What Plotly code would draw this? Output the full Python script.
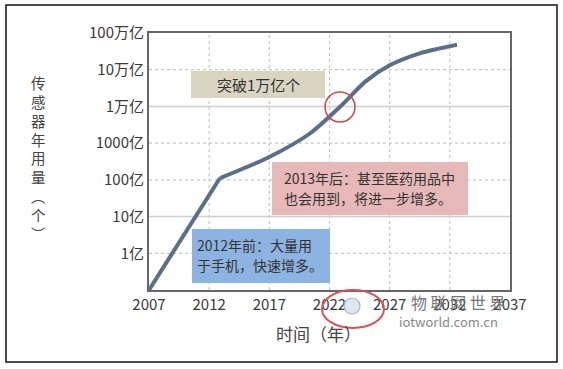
import plotly.graph_objects as go

# ---- data ----
years = [2007, 2012.9, 2017.0, 2020.4, 2022.9, 2025.0, 2027.0, 2029.5, 2032.6]
usage = [1e7, 1.12e10, 4.2e10, 1.86e11, 1.0e12, 4.8e12, 1.32e13, 2.8e13, 4.8e13]
kink_index = 1

x_ticks = [2007, 2012, 2017, 2022, 2027, 2032, 2037]
y_ticks = [1e8, 1e9, 1e10, 1e11, 1e12, 1e13, 1e14]
y_labels = ["1亿", "10亿", "100亿", "1000亿", "1万亿", "10万亿", "100万亿"]
solid_grid = [1e9, 1e12]

W, H = 563, 369
PL, PR, PT, PB = 149, 510, 33, 290
FONT = "Noto Sans CJK SC"
LINE_COLOR = "#5b7088"

def px(x):
    return (x - PL) / (PR - PL)

def py(y):
    return (PB - y) / (PB - PT)

fig = go.Figure()
fig.add_trace(go.Scatter(x=years[:kink_index + 1], y=usage[:kink_index + 1], mode="lines",
                         line=dict(color=LINE_COLOR, width=4), showlegend=False, hoverinfo="skip"))
fig.add_trace(go.Scatter(x=years[kink_index:], y=usage[kink_index:], mode="lines",
                         line=dict(color=LINE_COLOR, width=4, shape="spline", smoothing=0.8),
                         showlegend=False, hoverinfo="skip"))

shapes = []
for xv in x_ticks[1:-1]:
    shapes.append(dict(type="line", xref="x", yref="paper", x0=xv, x1=xv, y0=0, y1=1,
                       line=dict(color="#c8c8c8", width=1.2, dash="dot"), layer="below"))
for yv in y_ticks[:-1]:
    solid = yv in solid_grid
    shapes.append(dict(type="line", xref="paper", yref="y", x0=0, x1=1, y0=yv, y1=yv,
                       line=dict(color="#d0d0d0" if solid else "#c8c8c8", width=1.5 if solid else 1.2,
                                 dash="solid" if solid else "dot"), layer="below"))

boxes = [
    ((191, 71, 325, 98), "#d9d5c1"),
    ((272, 162, 468, 215), "#e6b9b8"),
    ((192, 229, 330, 283), "#8db3e2"),
]
for (x0, y0, x1, y1), col in boxes:
    shapes.append(dict(type="rect", xref="paper", yref="paper", x0=px(x0), x1=px(x1),
                       y0=py(y1), y1=py(y0), fillcolor=col, line=dict(width=0), layer="above"))

# red circle
shapes.append(dict(type="circle", xref="paper", yref="paper", x0=px(325), x1=px(355),
                   y0=py(122), y1=py(92), line=dict(color="#d04848", width=1.5), layer="above"))

# watermark logo
shapes.append(dict(type="circle", xref="paper", yref="paper", x0=px(322), x1=px(384),
                   y0=py(328), y1=py(290), line=dict(color="#dd5050", width=2), layer="above"))
shapes.append(dict(type="circle", xref="paper", yref="paper", x0=px(344), x1=px(360),
                   y0=py(314), y1=py(298), line=dict(color="#9fb5cc", width=1.2),
                   fillcolor="rgba(190,205,225,0.5)", layer="above"))

# outer border
shapes.append(dict(type="rect", xref="paper", yref="paper", x0=px(6), x1=px(557),
                   y0=py(362), y1=py(5), line=dict(color="#111", width=1.5)))

annotations = []
def text(xp, yp, s, size, color="#333", anchor="center"):
    annotations.append(dict(xref="paper", yref="paper", x=px(xp), y=py(yp), text=s,
                            showarrow=False, xanchor=anchor, yanchor="middle",
                            font=dict(family=FONT, size=size, color=color)))

text(258, 84, "突破1万亿个", 15)
text(282, 178, "2013年后：甚至医药用品中", 14, anchor="left")
text(282, 198, "也会用到，将进一步增多。", 14, anchor="left")
text(195, 245, "2012年前：大量用", 14, anchor="left")
text(195, 265, "于手机，快速增多。", 14, anchor="left")

text(38, 158, "<br>".join(list("传感器年用量") + ["︵", "个", "︶"]), 14.5, color="#444")
text(318, 333, "时间（年）", 17, color="#444")

text(458, 302, "物 联 网 世 界", 16, color="#777")
text(448, 321, "iotworld.com.cn", 13, color="#888")

fig.update_layout(
    width=W, height=H,
    margin=dict(l=PL, r=W - PR, t=PT, b=H - PB),
    paper_bgcolor="white", plot_bgcolor="white",
    shapes=shapes, annotations=annotations,
    xaxis=dict(range=[2007, 2037], tickvals=x_ticks, ticktext=[str(v) for v in x_ticks],
               showgrid=False, zeroline=False, showline=True, mirror=True,
               linecolor="#666", linewidth=2, ticks="", ticklen=0,
               tickfont=dict(family=FONT, size=15, color="#3a3a3a")),
    yaxis=dict(type="log", range=[7, 14], tickvals=y_ticks, ticktext=y_labels,
               showgrid=False, zeroline=False, showline=True, mirror=True,
               linecolor="#666", linewidth=2, ticks="", ticklen=0,
               tickfont=dict(family=FONT, size=15, color="#3a3a3a")),
)

fig.write_html("out.html", config={"displayModeBar": False},
               post_script="document.body.style.margin='0';")
